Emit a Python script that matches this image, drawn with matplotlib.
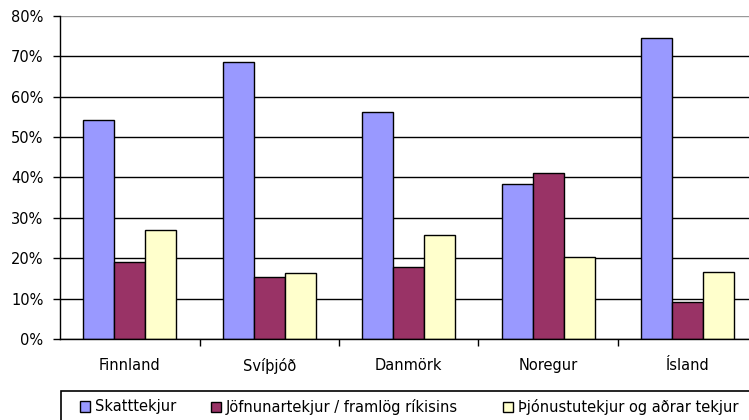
import numpy as np
import matplotlib
matplotlib.use("Agg")
import matplotlib.pyplot as plt
from matplotlib.patches import Rectangle, Patch

# data
countries = ["Finnland", "Svíþjóð", "Danmörk", "Noregur", "Ísland"]
skatttekjur = [54.2, 68.7, 56.2, 38.3, 74.5]
jofnunartekjur = [19.1, 15.4, 17.9, 41.2, 9.2]
thjonustutekjur = [27.0, 16.3, 25.8, 20.4, 16.7]
series_names = ["Skatttekjur", "Jöfnunartekjur / framlög ríkisins",
                "Þjónustutekjur og aðrar tekjur"]
series_colors = ["#9999FF", "#993366", "#FFFFCC"]
y_ticks = [0, 10, 20, 30, 40, 50, 60, 70, 80]

plt.rcParams["font.family"] = ["DejaVu Sans"]
plt.rcParams["font.size"] = 10.5

W, H = 749, 420
fig = plt.figure(figsize=(W / 100, H / 100), dpi=100)
# plot area is cut off at the right edge like the original
ax = fig.add_axes([60 / W, 81 / H, 697.5 / W, 323 / H])

x = np.arange(len(countries))
bw = 2 / 9.0
values = [skatttekjur, jofnunartekjur, thjonustutekjur]
for i, (vals, col) in enumerate(zip(values, series_colors)):
    ax.bar(x + (i - 1) * bw, vals, width=bw, color=col, edgecolor="black",
           linewidth=1, zorder=3)

ax.set_xlim(-0.5, len(countries) - 0.5)
ax.set_ylim(0, 80)
ax.set_yticks(y_ticks)
ax.set_yticklabels(["%d%%" % v for v in y_ticks])

# ticks between groups, labels under the groups
ax.set_xticks(np.arange(0.5, len(countries) - 0.5, 1.0))
ax.set_xticklabels([])
ax.set_xticks(x, minor=True)
ax.set_xticklabels(countries, minor=True)
ax.tick_params(axis="x", which="major", length=5, width=1, direction="out")
ax.tick_params(axis="x", which="minor", length=0, pad=14)
ax.tick_params(axis="y", length=5, width=1, direction="out", pad=7)

ax.yaxis.grid(True, color="black", linewidth=1, zorder=0)
ax.set_axisbelow(True)
gl = ax.yaxis.get_gridlines()
gl[-1].set_color("#999999")

for s in ["top", "right"]:
    ax.spines[s].set_visible(False)
ax.spines["left"].set_linewidth(1)
ax.spines["bottom"].set_linewidth(1)
ax.spines["bottom"].set_zorder(4)

# legend box running off the bottom / right edge
fig.patches.append(Rectangle((61 / W, -0.05), 1.0, (H - 391) / H + 0.05,
                             transform=fig.transFigure, fill=False,
                             edgecolor="black", linewidth=1.2))
# one legend per entry so each sits where the original puts it
entry_x = [80, 211, 503]
for name, col, ex in zip(series_names, series_colors, entry_x):
    h = Patch(facecolor=col, edgecolor="black", linewidth=1)
    leg = fig.legend([h], [name], loc="center left",
                     bbox_to_anchor=(ex / W, 1 - 407 / H), frameon=False,
                     handlelength=0.7, handleheight=0.7, handletextpad=0.3,
                     borderaxespad=0, borderpad=0)

fig.savefig("out.png", dpi=100)
